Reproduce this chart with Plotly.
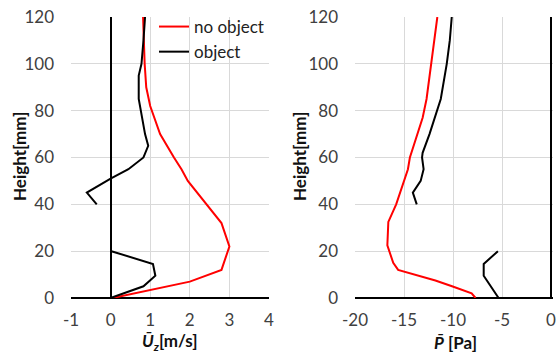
import plotly.graph_objects as go

# ---- data ----
h_no = [0, 2, 5, 7, 12, 22, 32, 40, 50, 55, 60, 70, 82, 90, 100, 110, 120]
u_no = [0.05, 0.6, 1.45, 2.0, 2.8, 3.0, 2.8, 2.42, 1.95, 1.79, 1.6, 1.25, 1.0, 0.9, 0.86, 0.84, 0.82]

h_obj = [0, 5, 9.5, 14.5, 20, None, 40, 45, 51, 55, 60, 65, 70, 85, 95, 100, 110, 120]
u_obj = [0.0, 0.83, 1.13, 1.07, 0.02, None, -0.35, -0.6, 0.0, 0.45, 0.83, 0.95, 0.87, 0.71, 0.71, 0.78, 0.83, 0.87]

hp_no = [0, 2, 5, 7.5, 12, 15, 22.5, 32.5, 40, 50, 55, 60, 70, 77, 85, 100, 120]
p_no = [-7.7, -8.1, -10.1, -11.8, -15.6, -16.1, -16.7, -16.6, -15.8, -15.0, -14.6, -14.4, -13.6, -13.1, -12.7, -12.2, -11.6]

hp_obj = [0, 9.5, 14.5, 20, None, 40, 45, 50, 55, 60, 62, 70, 80, 85, 100, 110, 120]
p_obj = [-5.35, -6.87, -6.87, -5.42, None, -13.7, -14.1, -13.3, -13.0, -13.16, -13.1, -12.4, -11.6, -11.25, -10.64, -10.33, -10.13]

y_ticks = [0, 20, 40, 60, 80, 100, 120]
xu_ticks = [-1, 0, 1, 2, 3, 4]
xu_labels = ["-1", "0", "1", "2", "3", "4"]
xp_ticks = [-20, -15, -10, -5, 0]
xp_labels = ["-20", "-15", "-10", "-5", "0"]

RED = "#ff0000"
BLK = "#000000"
FONT = "Lato"

fig = go.Figure()
fig.add_trace(go.Scatter(x=u_no, y=h_no, mode="lines", name="no object",
                         line=dict(color=RED, width=2), xaxis="x", yaxis="y"))
fig.add_trace(go.Scatter(x=u_obj, y=h_obj, mode="lines", name="object",
                         line=dict(color=BLK, width=2), xaxis="x", yaxis="y"))
fig.add_trace(go.Scatter(x=p_no, y=hp_no, mode="lines", name="no object", showlegend=False,
                         line=dict(color=RED, width=2), xaxis="x2", yaxis="y2"))
fig.add_trace(go.Scatter(x=p_obj, y=hp_obj, mode="lines", name="object", showlegend=False,
                         line=dict(color=BLK, width=2), xaxis="x2", yaxis="y2"))

W, H = 556, 358
yb, yt = 1 - 298 / H, 1 - 17 / H
grid = "#d9d9d9"
tickfont = dict(family=FONT, size=17, color="#404040")

ax_common = dict(showgrid=True, gridcolor=grid, gridwidth=1, showline=False,
                 ticks="", tickfont=tickfont, zeroline=True, zerolinecolor=BLK,
                 automargin=False, ticklabeloverflow="allow")

fig.update_layout(
    width=W, height=H,
    margin=dict(l=0, r=0, t=0, b=0, autoexpand=False),
    paper_bgcolor="white", plot_bgcolor="white",
    font=dict(family=FONT, size=16, color="#222222"),
    showlegend=True,
    legend=dict(x=154 / W, y=1 - 9 / H, xanchor="left", yanchor="top",
                bgcolor="rgba(0,0,0,0)", font=dict(family=FONT, size=17, color="#222222"),
                tracegroupgap=0, itemwidth=30),
    xaxis=dict(domain=[71 / W, 269 / W], range=[-1, 4], tickvals=xu_ticks, ticktext=xu_labels,
               anchor="y", ticklabelstandoff=10, zerolinewidth=2, **ax_common),
    yaxis=dict(domain=[yb, yt], range=[0, 120], tickvals=y_ticks,
               anchor="x", ticklabelstandoff=16, zerolinewidth=2, **ax_common),
    xaxis2=dict(domain=[355 / W, 553 / W], range=[-20, 0.2], tickvals=xp_ticks, ticktext=xp_labels,
                anchor="y2", ticklabelstandoff=10, zerolinewidth=2, **ax_common),
    yaxis2=dict(domain=[yb, yt], range=[0, 120], tickvals=y_ticks,
                anchor="x2", ticklabelstandoff=16, zerolinewidth=2, **ax_common),
)

ann = [
    dict(text="<b>Height[mm]</b>", x=19 / W, y=1 - 157 / H, textangle=-90),
    dict(text="<b>Height[mm]</b>", x=299 / W, y=1 - 157 / H, textangle=-90),
    dict(text="<b><i>Ū<sub>z</sub></i>[m/s]</b>", x=170 / W, y=1 - 342 / H),
    dict(text="<b><i>P̄</i> [Pa]</b>", x=455 / W, y=1 - 342 / H),
]
for a in ann:
    fig.add_annotation(xref="paper", yref="paper", showarrow=False,
                       xanchor="center", yanchor="middle",
                       font=dict(family=FONT, size=17, color="#111111"), **a)

fig.write_html("out.html")
